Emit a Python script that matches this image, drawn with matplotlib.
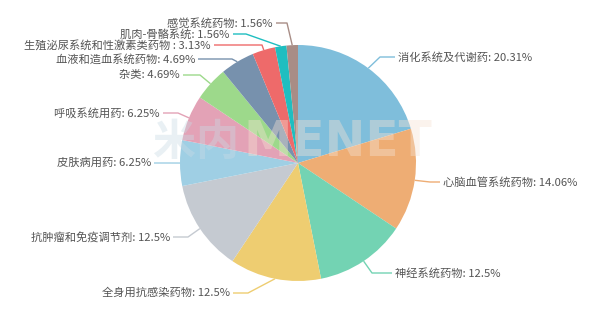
import numpy as np
import matplotlib
matplotlib.use("Agg")
import matplotlib.pyplot as plt

plt.rcParams['font.family'] = ['Noto Sans CJK SC', 'DejaVu Sans']

# data
categories = ["消化系统及代谢药", "心脑血管系统药物", "神经系统药物", "全身用抗感染药物",
              "抗肿瘤和免疫调节剂", "皮肤病用药", "呼吸系统用药", "杂类",
              "血液和造血系统药物", "生殖泌尿系统和性激素类药物 ", "肌肉-骨骼系统", "感觉系统药物"]
shares = [20.31, 14.06, 12.5, 12.5, 12.5, 6.25, 6.25, 4.69, 4.69, 3.13, 1.56, 1.56]
share_labels = ["20.31%", "14.06%", "12.5%", "12.5%", "12.5%", "6.25%", "6.25%",
                "4.69%", "4.69%", "3.13%", "1.56%", "1.56%"]

colors = ["#7fbedb", "#eead74", "#73d3b3", "#eecd71", "#c5cad1", "#9fcfe4",
          "#e3a2b6", "#9dd98b", "#7791ad", "#ee6a6a", "#1fbec0", "#a88d86"]

# label layout in pixels (top origin): text x, text y, elbow x
label_layout = [(398, 57, 380), (443, 182, 430), (395, 273, 372),
                (230, 293, 248), (170, 237, 188), (151, 163, 166),
                (160, 113, 178), (180, 75, 200), (195, 59, 232),
                (211, 45, 262), (230, 34, 246), (273, 23, 287)]

W, H = 600, 320
cx, cy, r = 298, 163, 118


def fy(y):
    return H - y


fig = plt.figure(figsize=(6, 3.2), dpi=100)
ax = fig.add_axes([0, 0, 1, 1])

wedges, _ = ax.pie(shares, colors=colors, startangle=90, counterclock=False,
                   radius=r, center=(cx, fy(cy)), wedgeprops=dict(linewidth=0))

# watermark
ax.text(153, fy(142), "米内", fontsize=31, fontweight="bold", color="#c9dbe4",
        alpha=0.4, va="center", ha="left", family=["Noto Sans CJK SC"], zorder=5)
ax.text(244, fy(142), "MENET", fontsize=35, fontweight="bold", color="#f5e3d4",
        alpha=0.4, va="center", ha="left", family=["DejaVu Sans"], zorder=5)

for w, cat, lab, col, (tx, ty, ex) in zip(wedges, categories, share_labels, colors, label_layout):
    mid = np.deg2rad((w.theta1 + w.theta2) / 2)
    x0 = cx + r * np.cos(mid)
    y0 = fy(cy) + r * np.sin(mid)
    right = tx > cx
    end = tx - 3 if right else tx + 3
    ax.plot([x0, ex, end], [y0, fy(ty), fy(ty)], color=col, lw=1, zorder=3,
            solid_capstyle="butt")
    ax.text(tx, fy(ty), f"{cat}: {lab}", fontsize=8.1, color="#555555",
            ha="left" if right else "right", va="center", zorder=6)

ax.set_xlim(0, W)
ax.set_ylim(0, H)
ax.set_aspect("equal")
ax.axis("off")

fig.savefig("out.png", dpi=100, facecolor="white")
